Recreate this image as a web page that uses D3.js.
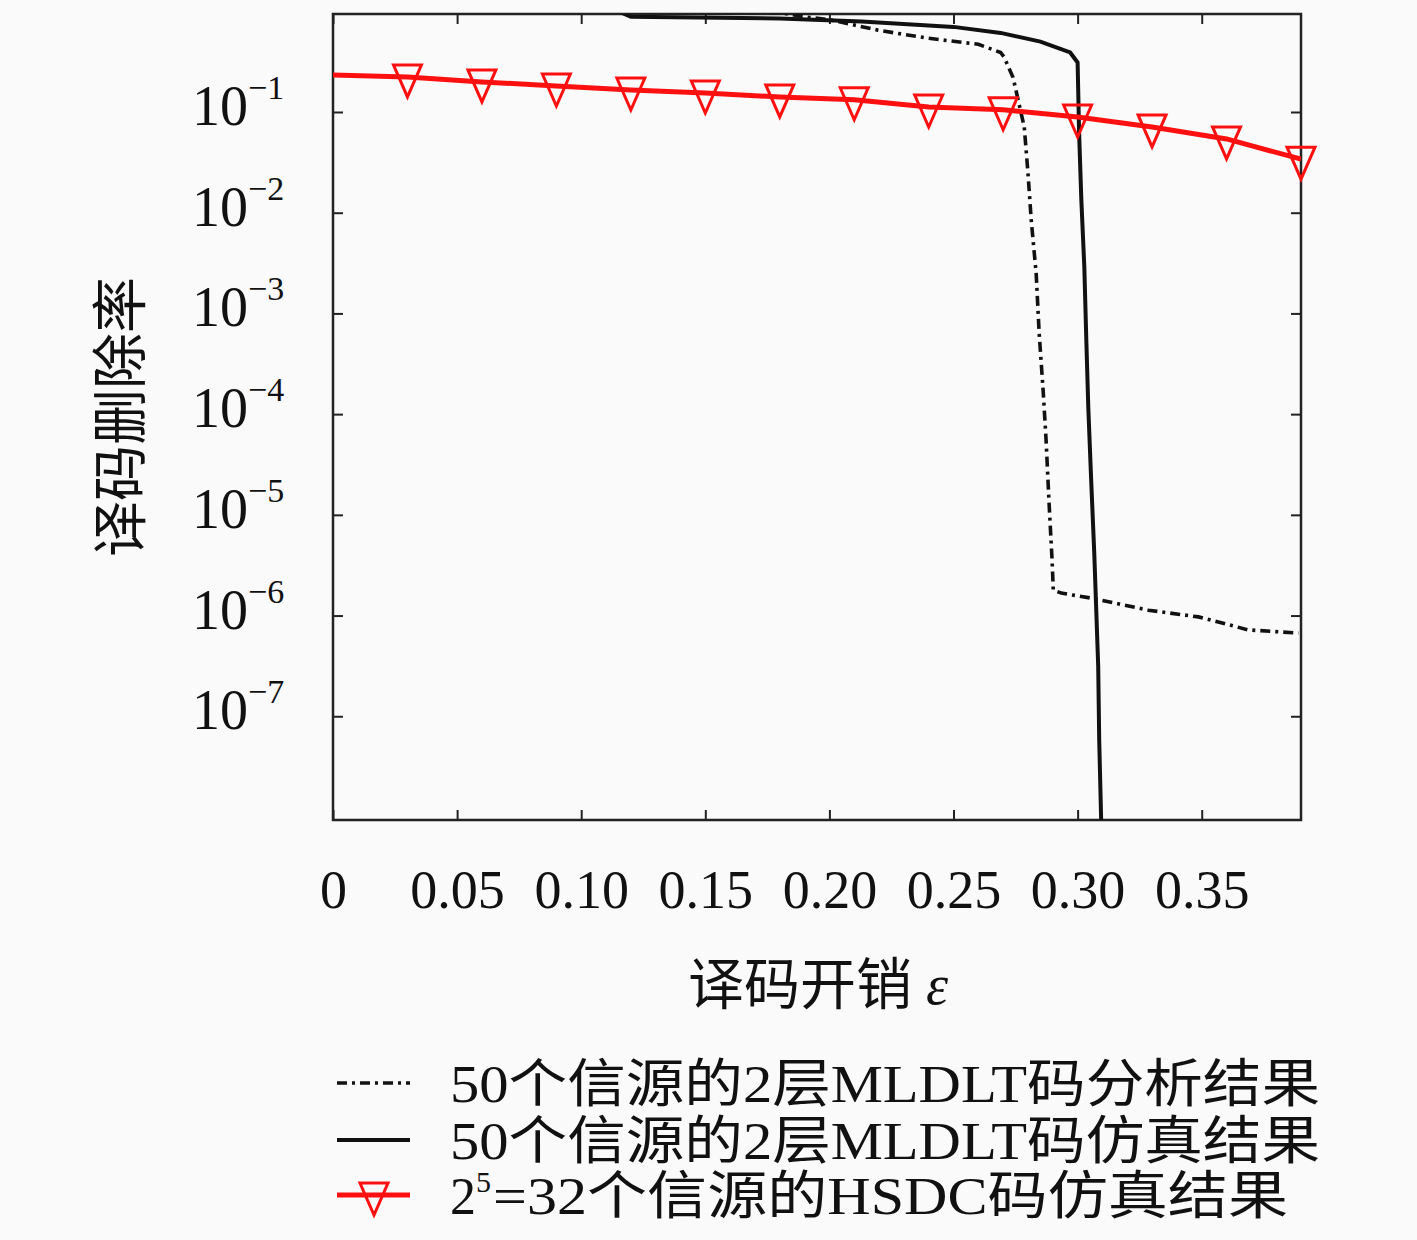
<!DOCTYPE html>
<html>
<head>
<meta charset="utf-8">
<script src="https://cdn.jsdelivr.net/npm/d3@7"></script>
<style>
  body { margin: 0; background: #fafafa; }
  text { font-family: "Liberation Serif", "DejaVu Serif", "Noto Sans CJK SC", serif; fill: #111; }
</style>
</head>
<body>
<svg id="chart" width="1417" height="1240"></svg>
<script>
// x ticks
var xTicks = [0, 0.05, 0.10, 0.15, 0.20, 0.25, 0.30, 0.35]
var yTicks = [1e-1, 1e-2, 1e-3, 1e-4, 1e-5, 1e-6, 1e-7]
var yExps = ["-1", "-2", "-3", "-4", "-5", "-6", "-7"]

// 50 sources, 2-layer MLDLT, analysis (dash-dot)
var anaX = [0, 0.18, 0.19, 0.2006, 0.2195, 0.2397, 0.260, 0.269, 0.2704, 0.274, 0.2785, 0.280, 0.2813, 0.2833,
            0.2845, 0.2861, 0.2873, 0.2885, 0.2897, 0.2902, 0.2934, 0.3055, 0.3285, 0.3487, 0.3688, 0.389]
var anaY = [1, 0.97, 0.88, 0.82, 0.65, 0.54, 0.47, 0.39, 0.35, 0.22, 0.071, 0.0248, 8.5e-3, 2.5e-3,
            6.4e-4, 1.73e-4, 5.5e-5, 1.31e-5, 3.6e-6, 1.79e-6, 1.67e-6, 1.49e-6, 1.13e-6, 9.7e-7, 7.2e-7, 6.7e-7]

// 50 sources, 2-layer MLDLT, simulation (solid)
var simX = [0, 0.115, 0.12, 0.18, 0.213, 0.250, 0.269, 0.285, 0.297, 0.300, 0.3006, 0.3015, 0.3027, 0.3035,
            0.3043, 0.3055, 0.3067, 0.3083, 0.3087, 0.3095]
var simY = [1, 1, 0.88, 0.85, 0.79, 0.70, 0.61, 0.50, 0.39, 0.31, 0.062, 0.0134, 2.9e-3, 5.5e-4,
            1.17e-4, 2.1e-5, 4.2e-6, 3.1e-7, 5.8e-8, 9e-9]

// 2^5=32 sources HSDC, simulation (red, triangles)
var hsdcX = [0, 0.03, 0.06, 0.09, 0.12, 0.15, 0.18, 0.21, 0.24, 0.27, 0.30, 0.33, 0.36, 0.39]
var hsdcY = [0.233, 0.223, 0.199, 0.181, 0.165, 0.154, 0.141, 0.132, 0.112, 0.105, 0.089, 0.071, 0.054, 0.034]

var svg = d3.select("#chart")

var plotL = 333, plotR = 1301, plotT = 14, plotB = 820

var x = d3.scaleLinear().domain([0, 0.39]).range([plotL, plotR])
var y = d3.scaleLog().domain([Math.pow(10, -8.03), Math.pow(10, -0.027)]).range([plotB, plotT])

svg.append("clipPath").attr("id", "plotclip")
  .append("rect").attr("x", plotL).attr("y", plotT).attr("width", plotR - plotL).attr("height", plotB - plotT)

// axes, ticks point inward
svg.append("g").attr("transform", "translate(0," + plotB + ")")
  .call(d3.axisBottom(x).tickValues(xTicks).tickSize(-10).tickSizeOuter(0).tickPadding(50)
    .tickFormat(function(d){ return d === 0 ? "0" : d3.format(".2f")(d) }))
  .call(function(g){
    g.select(".domain").remove()
    g.selectAll("line").attr("stroke", "#222").attr("stroke-width", 2)
    g.selectAll("text").attr("font-size", 54).attr("font-family", null).attr("fill", "#111")
  })

svg.append("g").attr("transform", "translate(0," + plotT + ")")
  .call(d3.axisTop(x).tickValues(xTicks).tickSize(-10).tickSizeOuter(0).tickFormat(""))
  .call(function(g){
    g.select(".domain").remove()
    g.selectAll("line").attr("stroke", "#222").attr("stroke-width", 2)
  })

svg.append("g").attr("transform", "translate(" + plotL + ",0)")
  .call(d3.axisLeft(y).tickValues(yTicks).tickSize(-10).tickSizeOuter(0).tickFormat(""))
  .call(function(g){
    g.select(".domain").remove()
    g.selectAll("line").attr("stroke", "#222").attr("stroke-width", 2)
  })

svg.append("g").attr("transform", "translate(" + plotR + ",0)")
  .call(d3.axisRight(y).tickValues(yTicks).tickSize(-10).tickSizeOuter(0).tickFormat(""))
  .call(function(g){
    g.select(".domain").remove()
    g.selectAll("line").attr("stroke", "#222").attr("stroke-width", 2)
  })

// y tick labels 10^-n
var ylab = svg.append("g").selectAll("text")
  .data(yTicks)
  .enter()
  .append("text")
    .attr("x", 192)
    .attr("y", function(d){ return y(d) + 13 })
    .attr("font-size", 56)
ylab.append("tspan").text("10")
ylab.append("tspan")
    .attr("dy", -26)
    .attr("font-size", 34)
    .text(function(d, i){ return "\u2212" + yExps[i].slice(1) })

// plot frame
svg.append("rect")
  .attr("x", plotL).attr("y", plotT)
  .attr("width", plotR - plotL).attr("height", plotB - plotT)
  .attr("fill", "none").attr("stroke", "#222").attr("stroke-width", 2.5)

var plot = svg.append("g").attr("clip-path", "url(#plotclip)")

var line = d3.line()
  .x(function(d){ return x(d[0]) })
  .y(function(d){ return y(d[1]) })

var dashDot = "10,5,3,5"

plot.append("path")
  .datum(d3.zip(anaX, anaY))
  .attr("d", line)
  .attr("fill", "none")
  .attr("stroke", "#111")
  .attr("stroke-width", 3.6)
  .attr("stroke-dasharray", dashDot)

plot.append("path")
  .datum(d3.zip(simX, simY))
  .attr("d", line)
  .attr("fill", "none")
  .attr("stroke", "#111")
  .attr("stroke-width", 4)

plot.append("path")
  .datum(d3.zip(hsdcX, hsdcY))
  .attr("d", line)
  .attr("fill", "none")
  .attr("stroke", "#ff1010")
  .attr("stroke-width", 5)

var tri = "M-14,-12L14,-12L0,20Z"

svg.append("g").selectAll("path")
  .data(d3.zip(hsdcX, hsdcY).slice(1))
  .enter()
  .append("path")
    .attr("transform", function(d){ return "translate(" + x(d[0]) + "," + y(d[1]) + ")" })
    .attr("d", tri)
    .attr("fill", "none")
    .attr("stroke", "#ff1010")
    .attr("stroke-width", 3)
    .attr("stroke-linejoin", "miter")

// axis titles
svg.append("text")
  .attr("transform", "translate(121,417) rotate(-90)")
  .attr("text-anchor", "middle")
  .attr("dominant-baseline", "central")
  .attr("font-size", 56)
  .text("译码删除率")

var xt = svg.append("text")
  .attr("x", 818)
  .attr("y", 1004)
  .attr("text-anchor", "middle")
  .attr("font-size", 56)
xt.append("tspan").text("译码开销 ")
xt.append("tspan").attr("font-style", "italic").text("ε")

// legend
var legendY = [1083, 1140, 1195]

svg.append("line")
  .attr("x1", 337).attr("x2", 410).attr("y1", legendY[0]).attr("y2", legendY[0])
  .attr("stroke", "#111").attr("stroke-width", 3.6).attr("stroke-dasharray", dashDot)

svg.append("line")
  .attr("x1", 337).attr("x2", 410).attr("y1", legendY[1]).attr("y2", legendY[1])
  .attr("stroke", "#111").attr("stroke-width", 4)

svg.append("line")
  .attr("x1", 337).attr("x2", 410).attr("y1", legendY[2]).attr("y2", legendY[2])
  .attr("stroke", "#ff1010").attr("stroke-width", 5)
svg.append("path")
  .attr("transform", "translate(374," + legendY[2] + ")")
  .attr("d", tri)
  .attr("fill", "none").attr("stroke", "#ff1010").attr("stroke-width", 3)

svg.append("text").attr("x", 450).attr("y", legendY[0] + 19).attr("font-size", 52)
  .attr("textLength", 870).attr("lengthAdjust", "spacingAndGlyphs")
  .text("50个信源的2层MLDLT码分析结果")
svg.append("text").attr("x", 450).attr("y", legendY[1] + 19).attr("font-size", 52)
  .attr("textLength", 870).attr("lengthAdjust", "spacingAndGlyphs")
  .text("50个信源的2层MLDLT码仿真结果")

var l3 = svg.append("text").attr("x", 450).attr("y", legendY[2] + 19).attr("font-size", 52)
l3.append("tspan").text("2")
l3.append("tspan").attr("dy", -22).attr("font-size", 30).text("5")
l3.append("tspan").attr("dy", 22).attr("dx", 2)
  .attr("textLength", 795).attr("lengthAdjust", "spacingAndGlyphs")
  .text("=32个信源的HSDC码仿真结果")
</script>
</body>
</html>
